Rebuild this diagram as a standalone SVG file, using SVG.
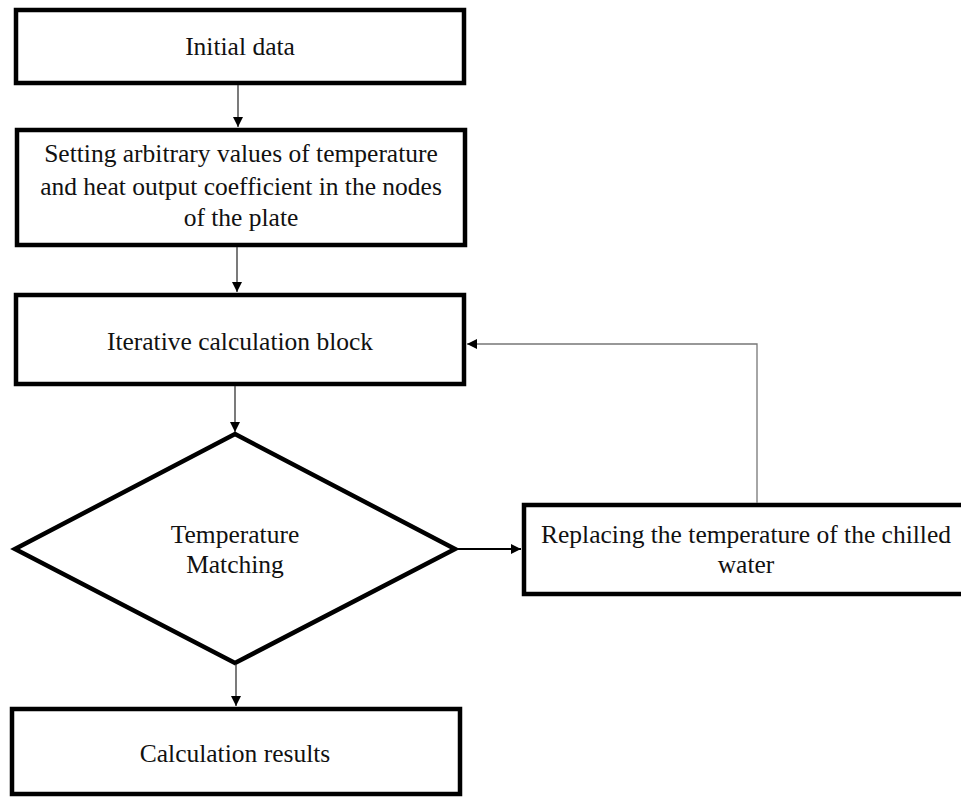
<svg xmlns="http://www.w3.org/2000/svg" width="961" height="797" viewBox="0 0 961 797">
<defs>
<style>
.box{fill:#fff;stroke:#000;stroke-width:4.5}
text{font-family:'Liberation Serif','DejaVu Serif',serif;font-size:25.5px;fill:#111;text-anchor:middle}
.c{fill:none;stroke:#333;stroke-width:1.3}
.fb{fill:none;stroke:#777;stroke-width:1.3}
.h{fill:none;stroke:#000;stroke-width:1.8}
</style>
<marker id="ah" viewBox="0 0 10 10" refX="10" refY="5" markerWidth="10" markerHeight="10" markerUnits="userSpaceOnUse" orient="auto">
<path d="M0,0 L10,5 L0,10 Z" fill="#000"/>
</marker>
</defs>
<rect width="961" height="797" fill="#fff"/>
<g id="n1">
<rect class="box" x="16" y="10" width="448" height="73"/>
<text x="240" y="55" font-family="Liberation Serif, serif">Initial data</text>
</g>
<g id="n2">
<rect class="box" x="17" y="130" width="448" height="115"/>
<text x="241" y="162">Setting arbitrary values of temperature</text>
<text x="241" y="195">and heat output coefficient in the nodes</text>
<text x="241" y="226">of the plate</text>
</g>
<g id="n3">
<rect class="box" x="16" y="295" width="448" height="89"/>
<text x="240" y="350">Iterative calculation block</text>
</g>
<g id="n4">
<polygon class="box" points="235,434 455,549 235,663 15,549"/>
<text x="235" y="543">Temperature</text>
<text x="235" y="573">Matching</text>
</g>
<g id="n5">
<rect class="box" x="524" y="505" width="446" height="89"/>
<text x="746" y="543">Replacing the temperature of the chilled</text>
<text x="746" y="573">water</text>
</g>
<g id="n6">
<rect class="box" x="12" y="709" width="448" height="85"/>
<text x="235" y="762">Calculation results</text>
</g>
<g id="connectors">
<line class="c" x1="238" y1="85" x2="238" y2="127" marker-end="url(#ah)"/>
<line class="c" x1="237" y1="247" x2="237" y2="292" marker-end="url(#ah)"/>
<line class="c" x1="235" y1="386" x2="235" y2="432" marker-end="url(#ah)"/>
<line class="c" x1="236" y1="664" x2="236" y2="706" marker-end="url(#ah)"/>
<line class="h" x1="457" y1="549" x2="521" y2="549" marker-end="url(#ah)"/>
<polyline class="fb" points="757,503 757,344 467,344" marker-end="url(#ah)"/>
</g>
</svg>
